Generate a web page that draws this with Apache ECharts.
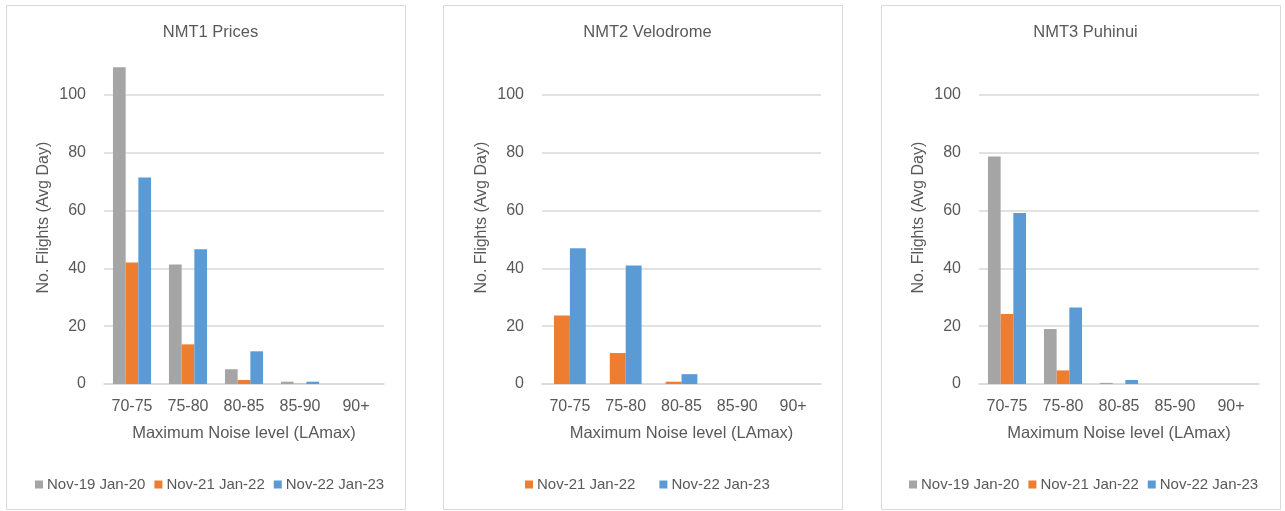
<!DOCTYPE html>
<html>
<head>
<meta charset="utf-8">
<script src="https://cdn.jsdelivr.net/npm/echarts@6/dist/echarts.min.js"></script>
<style>
  html, body { margin: 0; padding: 0; background: #fff; }
  #chart { width: 1285px; height: 511px; }
</style>
</head>
<body>
<div id="chart"></div>
<script>
// Noise bands on the x axis
const categories = ['70-75', '75-80', '80-85', '85-90', '90+'];
const periodNames = ['Nov-19 Jan-20', 'Nov-21 Jan-22', 'Nov-22 Jan-23'];
const panelTitles = ['NMT1 Prices', 'NMT2 Velodrome', 'NMT3 Puhinui'];

// Average daily flights per band, by monitor and period
const nmt1Nov19 = [109.5, 41.3, 5.1, 0.8, 0];
const nmt1Nov21 = [42.0, 13.7, 1.4, 0.1, 0];
const nmt1Nov22 = [71.4, 46.6, 11.3, 0.8, 0];

const nmt2Nov21 = [23.7, 10.7, 0.8, 0, 0];
const nmt2Nov22 = [46.9, 41.0, 3.4, 0, 0];

const nmt3Nov19 = [78.6, 19.0, 0.4, 0, 0];
const nmt3Nov21 = [24.2, 4.7, 0, 0, 0];
const nmt3Nov22 = [59.1, 26.4, 1.4, 0, 0];

const colors = { 'Nov-19 Jan-20': '#A5A5A5', 'Nov-21 Jan-22': '#ED7D31', 'Nov-22 Jan-23': '#5B9BD5' };
const textColor = '#595959';
const gridColor = '#D9D9D9';
const font = 'Liberation Sans, Arial, sans-serif';

// Panel frames and plot areas
const frames = [
  { x: 6, w: 399 },
  { x: 443, w: 399 },
  { x: 881, w: 399 }
];
const plots = [
  { left: 104, width: 280 },
  { left: 542, width: 279 },
  { left: 979, width: 280 }
];
const plotTop = 51.3;
const plotBottom = 384;

const panelSeries = [
  [[periodNames[0], nmt1Nov19], [periodNames[1], nmt1Nov21], [periodNames[2], nmt1Nov22]],
  [[periodNames[1], nmt2Nov21], [periodNames[2], nmt2Nov22]],
  [[periodNames[0], nmt3Nov19], [periodNames[1], nmt3Nov21], [periodNames[2], nmt3Nov22]]
];
const categoryGaps = ['32%', '43%', '32%'];
const legendLefts = [35, 525, 909];
const legendGaps = [9, 24, 9];

const grids = [], xAxes = [], yAxes = [], series = [], titles = [], legends = [], graphics = [];

frames.forEach((f, i) => {
  graphics.push({
    type: 'rect', z: -10, silent: true,
    shape: { x: f.x + 0.5, y: 5.5, width: f.w, height: 504 },
    style: { fill: '#fff', stroke: gridColor, lineWidth: 1 }
  });
  titles.push({
    text: panelTitles[i],
    left: f.x + f.w / 2, top: 19, textAlign: 'center',
    textStyle: { fontFamily: font, fontSize: 16.5, fontWeight: 'normal', color: textColor }
  });
  grids.push({ left: plots[i].left, width: plots[i].width, top: plotTop, height: plotBottom - plotTop });
  xAxes.push({
    type: 'category', gridIndex: i, data: categories,
    axisLine: { show: true, lineStyle: { color: gridColor, width: 1.5 } },
    axisTick: { show: false },
    axisLabel: { color: textColor, fontFamily: font, fontSize: 16, margin: 15 },
    name: 'Maximum Noise level (LAmax)', nameLocation: 'middle', nameGap: 41,
    nameTextStyle: { color: textColor, fontFamily: font, fontSize: 16.5 }
  });
  yAxes.push({
    type: 'value', gridIndex: i, min: 0, max: 115, interval: 20,
    axisLine: { show: false }, axisTick: { show: false },
    axisLabel: { color: textColor, fontFamily: font, fontSize: 16, margin: 18, showMaxLabel: false },
    splitLine: { show: true, showMaxLine: false, lineStyle: { color: gridColor, width: 1.5 } },
    name: 'No. Flights (Avg Day)', nameLocation: 'middle', nameGap: 52,
    nameTextStyle: { color: textColor, fontFamily: font, fontSize: 16 }
  });
  panelSeries[i].forEach(([name, values]) => {
    series.push({
      type: 'bar', name, xAxisIndex: i, yAxisIndex: i, data: values,
      barGap: '0%', barCategoryGap: categoryGaps[i],
      itemStyle: { color: colors[name] },
      emphasis: { disabled: true }
    });
  });
  legends.push({
    data: panelSeries[i].map(s => s[0]),
    left: legendLefts[i], top: 477, padding: 0,
    itemWidth: 8, itemHeight: 8, itemGap: legendGaps[i],
    icon: 'rect', selectedMode: false,
    textStyle: { color: textColor, fontFamily: font, fontSize: 15, padding: [0, 0, 0, -1] }
  });
});

const chart = echarts.init(document.getElementById('chart'), null, { renderer: 'canvas' });
chart.setOption({
  animation: false,
  backgroundColor: '#fff',
  title: titles,
  legend: legends,
  grid: grids,
  xAxis: xAxes,
  yAxis: yAxes,
  series: series,
  graphic: graphics
});
</script>
</body>
</html>
